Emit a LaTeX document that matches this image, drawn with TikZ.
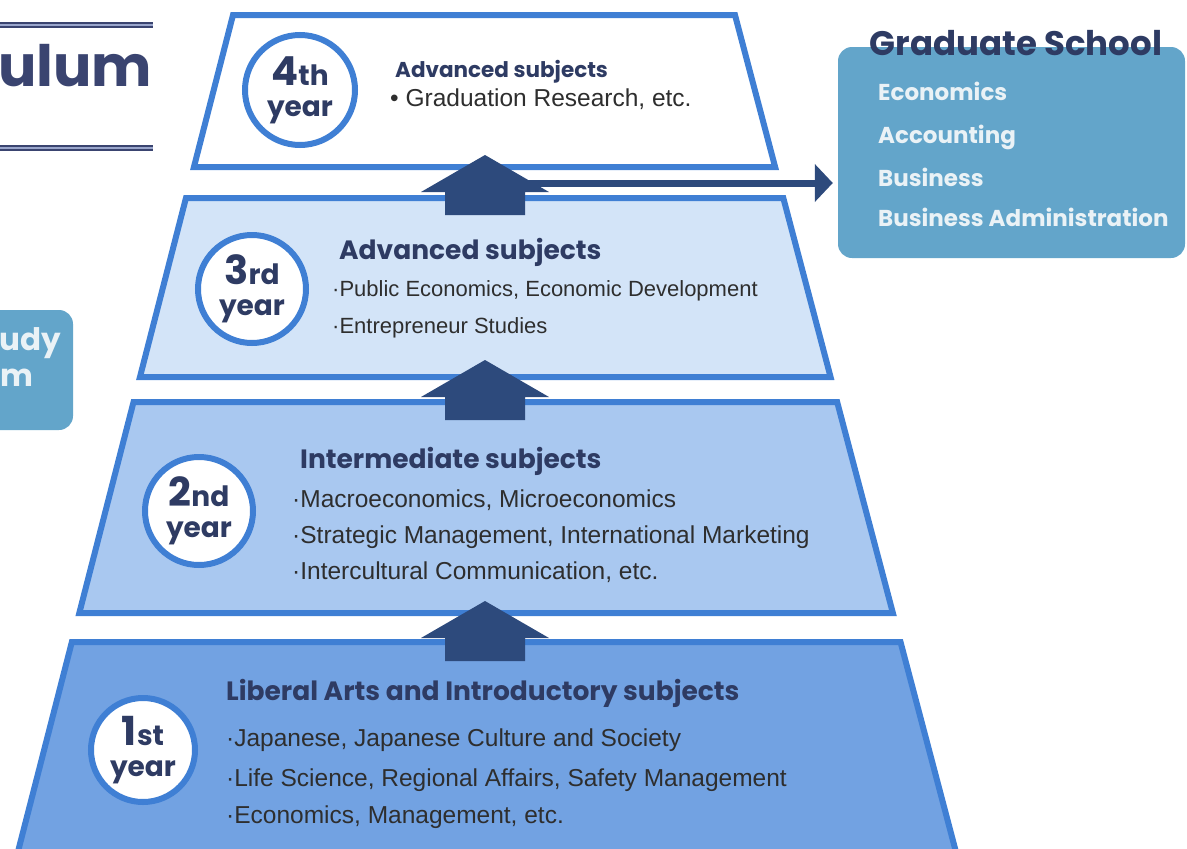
\documentclass[tikz,border=0pt]{standalone}
\usepackage{fontspec}
\setmainfont{Liberation Sans}
\newfontfamily\headfont{Poppins}
\usetikzlibrary{arrows.meta,positioning}

\definecolor{edgeblue}{HTML}{3F7FD4}
\definecolor{fillthird}{HTML}{D3E4F8}
\definecolor{fillsecond}{HTML}{A9C8F0}
\definecolor{fillfirst}{HTML}{72A2E2}
\definecolor{arrownavy}{HTML}{2D4A7C}
\definecolor{headnavy}{HTML}{2E3B63}
\definecolor{bodygray}{HTML}{2E2E2E}
\definecolor{gradteal}{HTML}{63A5CA}
\definecolor{paletext}{HTML}{EAF2F6}
\definecolor{titlenavy}{HTML}{3A4470}
\definecolor{titlepale}{HTML}{9AA6CC}

\newcommand{\yrnum}[2]{{\fontsize{40}{40}\selectfont #1}{\fontsize{28}{28}\selectfont #2}}
\newcommand{\yrword}{{\fontsize{28}{28}\selectfont year}}

\tikzset{
  pyr/.style={draw=edgeblue, line width=6pt, line join=miter},
  yearcirc/.style={circle, draw=edgeblue, line width=6pt, fill=white,
    minimum size=108pt, inner sep=0pt, align=center, text=headnavy,
    font=\headfont\bfseries\fontsize{28}{31}\selectfont},
  headtxt/.style={anchor=base west, inner sep=0pt, text=headnavy,
    font=\headfont\bfseries\fontsize{26.5}{30}\selectfont},
  itemtxt/.style={anchor=base west, inner sep=0pt, text=bodygray,
    font=\fontsize{24.5}{28}\selectfont},
  gradbox/.style={fill=gradteal, rounded corners=14pt, inner sep=0pt},
  gradtxt/.style={anchor=base west, inner sep=0pt, text=paletext,
    font=\headfont\bfseries\fontsize{23}{26}\selectfont},
  titleline/.style={draw=titlenavy, line width=1.8pt, double=titlepale, double distance=1.6pt},
  linkarrow/.style={arrownavy, line width=7pt, -{Triangle[length=18pt,width=37pt]}}
}

\begin{document}
\begin{tikzpicture}[x=1pt,y=-1pt]
    \useasboundingbox (0,0) rectangle (1187,849);
    \clip (0,0) rectangle (1187,849);

    % Title, cut at the left edge
    \draw[titleline] (0,25) -- (153,25);
    \draw[titleline] (0,148) -- (153,148);
    \node[anchor=base west, inner sep=0pt, text=titlenavy,
      font=\headfont\bfseries\fontsize{57}{62}\selectfont] (title) at (-2,86) {ulum};

    % Study box, cut at the left edge
    \fill[gradteal, rounded corners=14pt] (-30,310) rectangle (73,430);
    \node[anchor=base east, inner sep=0pt, text=paletext,
      font=\headfont\bfseries\fontsize{31}{34}\selectfont] (study) at (61,350) {udy};
    \node[anchor=base east, inner sep=0pt, text=paletext,
      font=\headfont\bfseries\fontsize{31}{34}\selectfont] (prog) at (34,386) {m};

    % The four levels of the pyramid
    \foreach \ty/\by/\col in {15/167/white, 198/377/fillthird, 402/613/fillsecond, 642/880/fillfirst}
      \filldraw[pyr, fill=\col] ({233-0.257*(\ty-15)},\ty) -- ({735+0.264*(\ty-15)},\ty)
        -- ({735+0.264*(\by-15)},\by) -- ({233-0.257*(\by-15)},\by) -- cycle;

    % Graduate school box
    \node[gradbox, minimum width=347pt, minimum height=211pt] (grad) at (1011.5,152.5) {};
    \node[anchor=base, inner sep=0pt, text=headnavy,
      font=\headfont\bfseries\fontsize{34}{36}\selectfont] (gradtitle) at (1016,55) {Graduate School};
    \node[gradtxt] (econ) at (878,100) {Economics};
    \node[gradtxt] (acct) at (878,143) {Accounting};
    \node[gradtxt] (busi) at (878,186) {Business};
    \node[gradtxt] (busad) at (878,226) {Business Administration};

    % Link to graduate school
    \coordinate (upA) at (485,183);
    \draw[linkarrow, shorten >=5pt] (upA) -- (upA -| grad.west);

    % Up arrows between the levels
    \foreach \tip in {155,360,601}
      \fill[arrownavy] (485,\tip) -- (549,{\tip+37}) -- (525,{\tip+37}) -- (525,{\tip+60})
        -- (445,{\tip+60}) -- (445,{\tip+37}) -- (421,{\tip+37}) -- cycle;

    % 4th year
    \node[yearcirc, minimum size=110pt] (c4) at (300,90) {\yrnum{4}{th}\\\yrword};
    \node[headtxt, font=\headfont\bfseries\fontsize{21.5}{26}\selectfont] (h4) at (395,77) {Advanced subjects};
    \node[itemtxt] (i41) at (390,106) {• Graduation Research, etc.};

    % 3rd year
    \node[yearcirc] (c3) at (252,289) {\yrnum{3}{rd}\\\yrword};
    \node[headtxt] (h3) at (339,259) {Advanced subjects};
    \node[itemtxt, font=\fontsize{22}{26}\selectfont] (i31) at (332,296) {·Public Economics, Economic Development};
    \node[itemtxt, font=\fontsize{22}{26}\selectfont] (i32) at (332,333) {·Entrepreneur Studies};

    % 2nd year
    \node[yearcirc] (c2) at (199,511) {\yrnum{2}{nd}\\\yrword};
    \node[headtxt] (h2) at (300,468) {Intermediate subjects};
    \node[itemtxt] (i21) at (292,507) {·Macroeconomics, Microeconomics};
    \node[itemtxt] (i22) at (292,543) {·Strategic Management, International Marketing};
    \node[itemtxt] (i23) at (292,579) {·Intercultural Communication, etc.};

    % 1st year
    \node[yearcirc, minimum size=104pt] (c1) at (143,750) {\yrnum{1}{st}\\\yrword};
    \node[headtxt] (h1) at (226,700) {Liberal Arts and Introductory subjects};
    \node[itemtxt] (i11) at (226,746) {·Japanese, Japanese Culture and Society};
    \node[itemtxt] (i12) at (226,786) {·Life Science, Regional Affairs, Safety Management};
    \node[itemtxt] (i13) at (226,823) {·Economics, Management, etc.};
\end{tikzpicture}
\end{document}
